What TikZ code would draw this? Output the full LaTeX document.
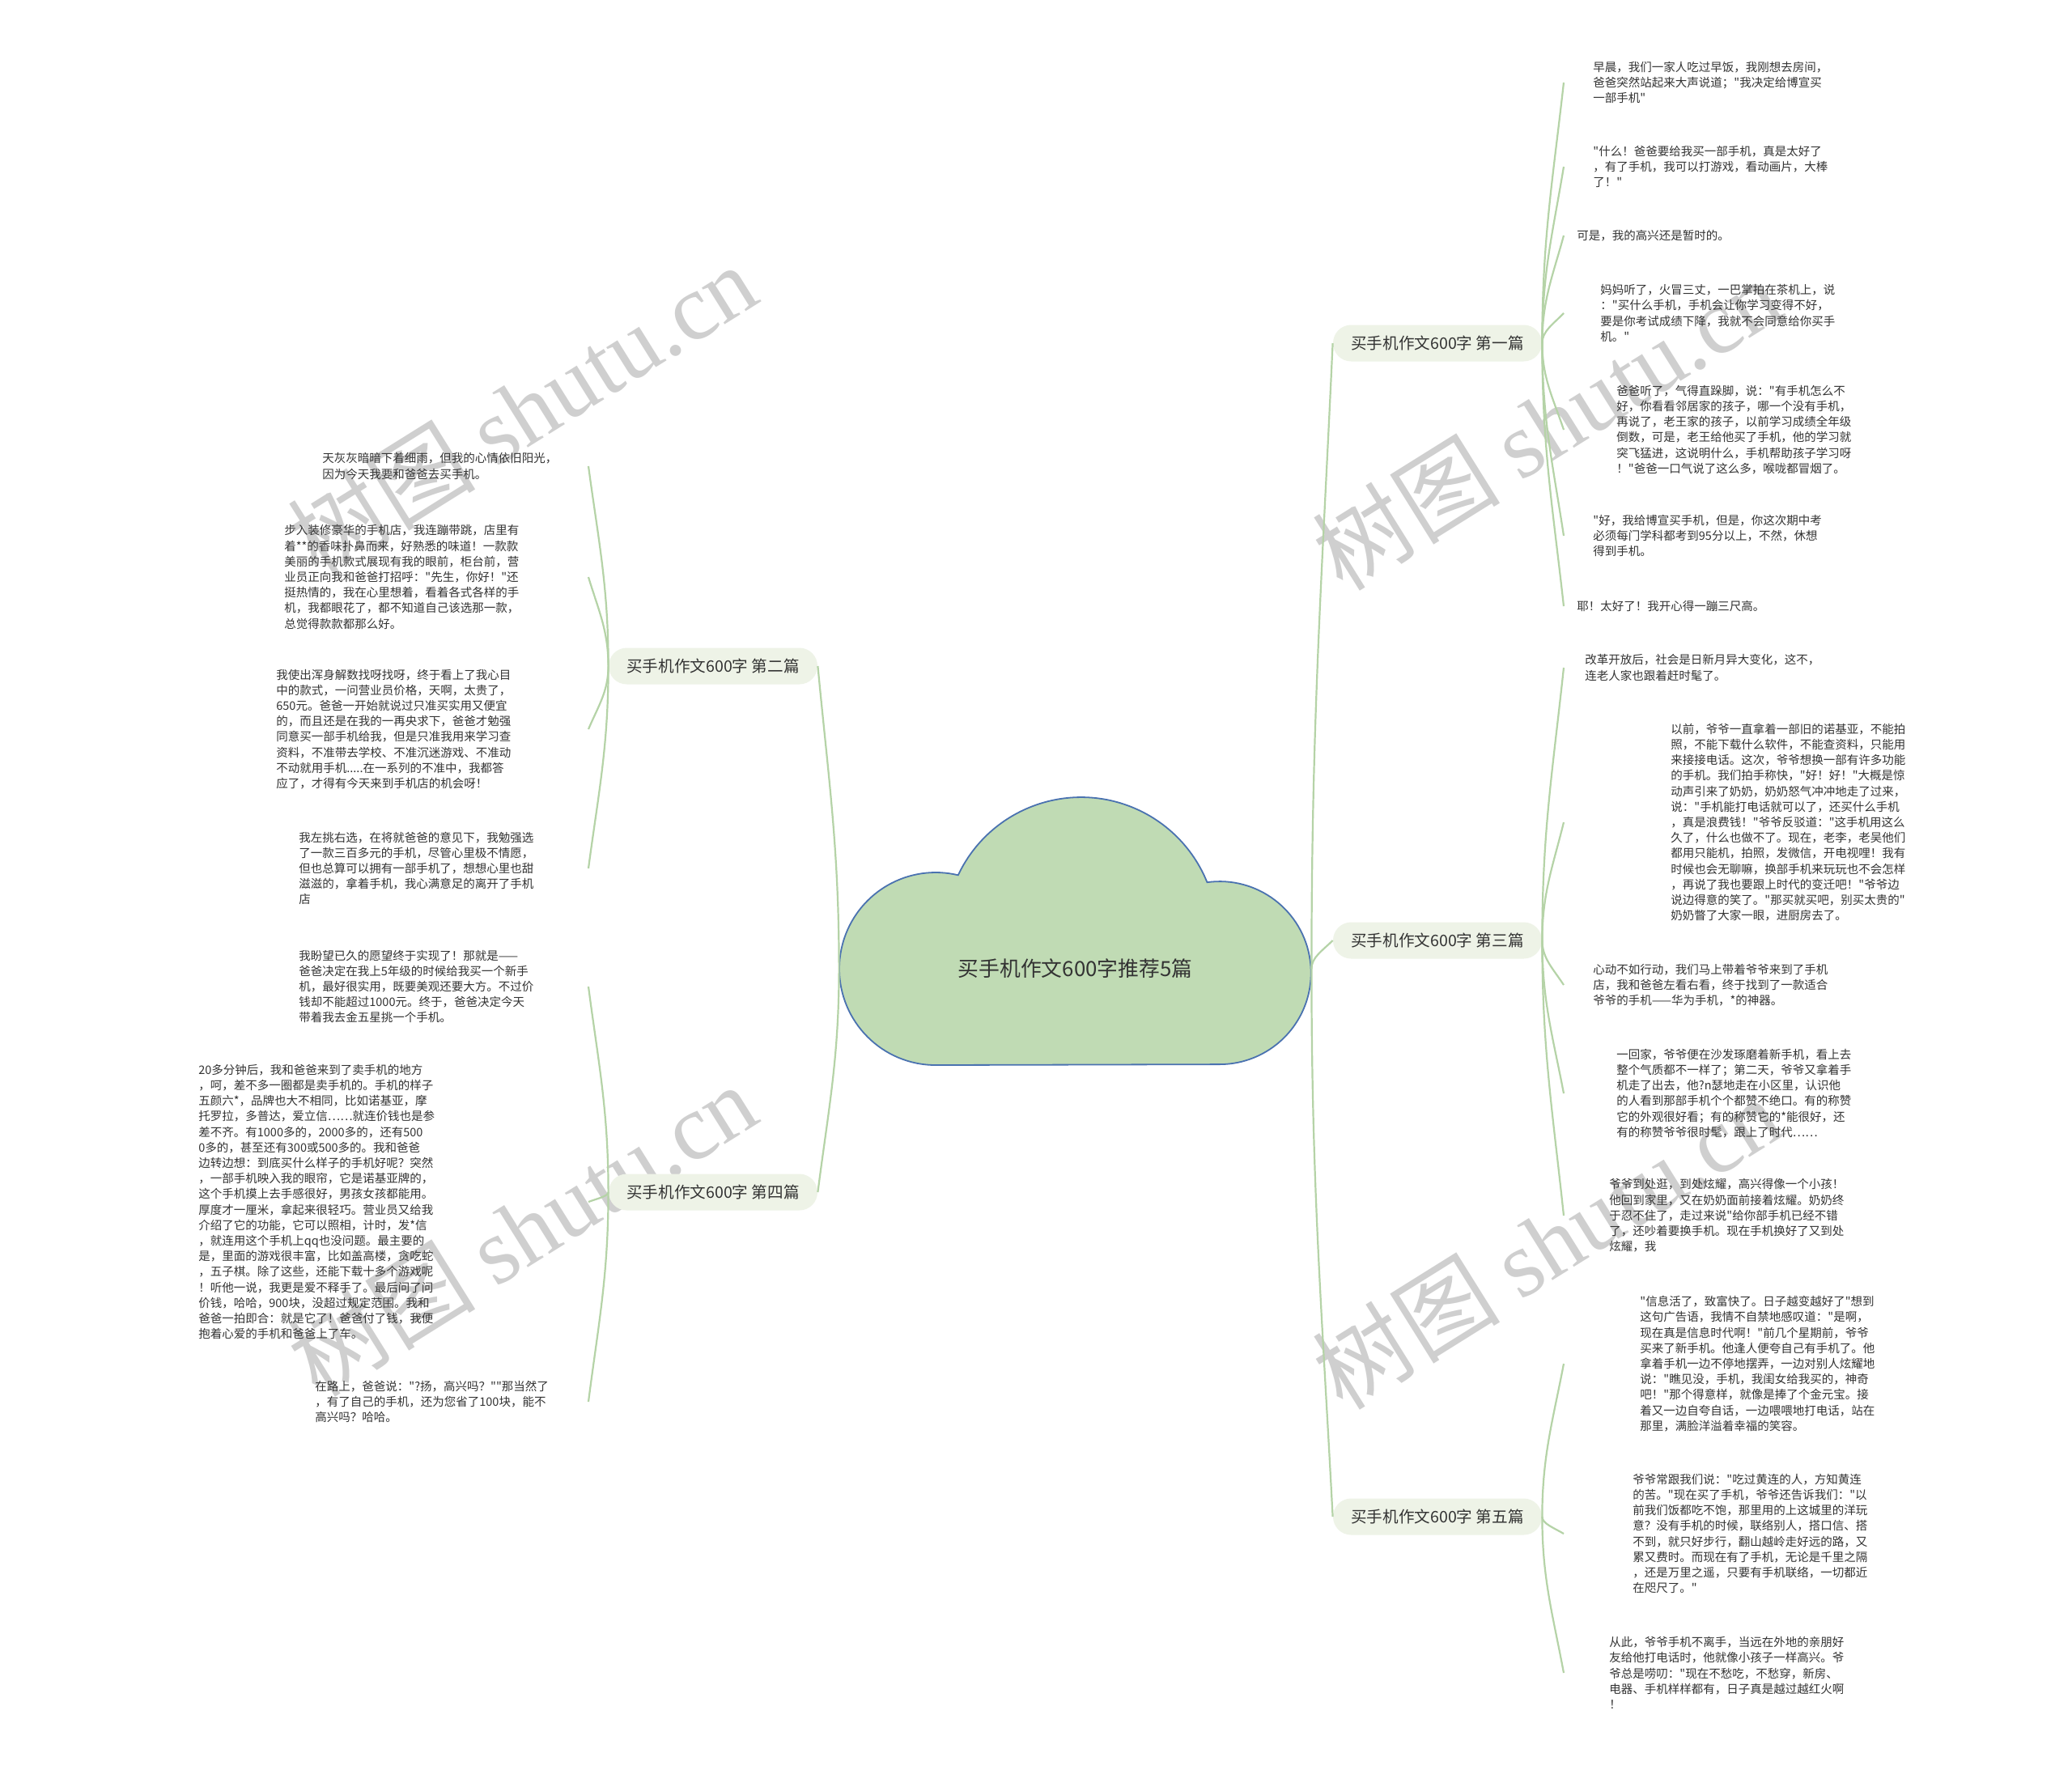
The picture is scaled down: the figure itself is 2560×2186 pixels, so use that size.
\documentclass[tikz,border=0pt]{standalone}
\usepackage{fontspec}
\usetikzlibrary{calc}
\setmainfont{Noto Sans CJK SC}
\newfontfamily\cjk{Noto Sans CJK SC}
\newfontfamily\wmlatin{Liberation Serif}
\definecolor{lineg}{HTML}{B5D3A7}
\definecolor{cloudfill}{HTML}{C0DBB4}
\definecolor{cloudline}{HTML}{4A72B0}
\definecolor{branchfill}{HTML}{EEF3E7}
\definecolor{txt}{HTML}{333333}
\definecolor{wmc}{HTML}{CFCFCF}
\tikzset{
  leaf/.style={anchor=west, inner sep=0pt, align=left, text=txt, font={\cjk\fontsize{7.25pt}{9.6pt}\selectfont}},
  branch/.style={rounded corners=11.2pt, fill=branchfill, minimum width=129pt, minimum height=22.5pt, inner sep=0pt, text=txt, font={\cjk\fontsize{9.8pt}{12pt}\selectfont}},
  conn/.style={draw=lineg, line width=1.1pt},
  wmark/.style={rotate=32, text=wmc, inner sep=0pt, font={\fontsize{58pt}{60pt}\selectfont}}
}
\newcommand\linkit[2]{%
  \path (#1) coordinate (S) (#2) coordinate (E);
  \path ($(S)!0.4!(E)$) coordinate (Q1) ($(S)!0.5!(E)$) coordinate (Qh) ($(S)!0.63!(E)$) coordinate (Q2);
  \draw[conn] (S) .. controls (S |- Q1) and (Qh |- Q2) .. (E);
}
\begin{document}
\begin{tikzpicture}[x=0.5pt,y=0.5pt]
\useasboundingbox (0,0) rectangle (2560,-2186);
\fill[white] (0,0) rectangle (2560,-2186);
% watermarks
\node[wmark] (wm1) at (645,-506) {\cjk 树图 \wmlatin shutu.cn};
\node[wmark] (wm2) at (1911,-523) {\cjk 树图 \wmlatin shutu.cn};
\node[wmark] (wm3) at (645,-1519) {\cjk 树图 \wmlatin shutu.cn};
\node[wmark] (wm4) at (1911,-1535) {\cjk 树图 \wmlatin shutu.cn};
% cloud
\path[draw=cloudline, fill=cloudfill, line width=0.9pt] (1156,-1316) arc[start angle=270, end angle=76.5, radius=119] arc[start angle=154.7, end angle=22.0, radius=168] arc[start angle=97.8, end angle=-90, radius=113] -- cycle;
\node[inner sep=0pt, minimum width=291.5pt, minimum height=12pt, text=txt, font={\cjk\fontsize{12.9pt}{15pt}\selectfont}] (C) at (1328.5,-1197) {买手机作文600字推荐5篇};
% branches
\node[branch] (B1) at (1776,-424) {买手机作文600字 第一篇};
\node[branch] (B2) at (881,-823) {买手机作文600字 第二篇};
\node[branch] (B3) at (1776,-1162) {买手机作文600字 第三篇};
\node[branch] (B4) at (881,-1473) {买手机作文600字 第四篇};
\node[branch] (B5) at (1776,-1874) {买手机作文600字 第五篇};
% leaves section 1
\node[leaf] (L1a) at (1968,-102) {早晨，我们一家人吃过早饭，我刚想去房间，\\爸爸突然站起来大声说道；"我决定给博宣买\\一部手机"};
\node[leaf] (L1b) at (1968,-206) {"什么！爸爸要给我买一部手机，真是太好了\\，有了手机，我可以打游戏，看动画片，大棒\\了！"};
\node[leaf] (L1c) at (1948,-291) {可是，我的高兴还是暂时的。};
\node[leaf] (L1d) at (1977,-387) {妈妈听了，火冒三丈，一巴掌拍在茶机上，说\\："买什么手机，手机会让你学习变得不好，\\要是你考试成绩下降，我就不会同意给你买手\\机。"};
\node[leaf] (L1e) at (1997,-531) {爸爸听了，气得直跺脚，说："有手机怎么不\\好，你看看邻居家的孩子，哪一个没有手机，\\再说了，老王家的孩子，以前学习成绩全年级\\倒数，可是，老王给他买了手机，他的学习就\\突飞猛进，这说明什么，手机帮助孩子学习呀\\！"爸爸一口气说了这么多，喉咙都冒烟了。};
\node[leaf] (L1f) at (1968,-662) {"好，我给博宣买手机，但是，你这次期中考\\必须每门学科都考到95分以上，不然，休想\\得到手机。};
\node[leaf] (L1g) at (1948,-749) {耶！太好了！我开心得一蹦三尺高。};
% leaves section 3
\node[leaf] (L3a) at (1958,-825) {改革开放后，社会是日新月异大变化，这不，\\连老人家也跟着赶时髦了。};
\node[leaf] (L3b) at (2064,-1016) {以前，爷爷一直拿着一部旧的诺基亚，不能拍\\照，不能下载什么软件，不能查资料，只能用\\来接接电话。这次，爷爷想换一部有许多功能\\的手机。我们拍手称快，"好！好！"大概是惊\\动声引来了奶奶，奶奶怒气冲冲地走了过来，\\说："手机能打电话就可以了，还买什么手机\\，真是浪费钱！"爷爷反驳道："这手机用这么\\久了，什么也做不了。现在，老李，老吴他们\\都用只能机，拍照，发微信，开电视哩！我有\\时候也会无聊嘛，换部手机来玩玩也不会怎样\\，再说了我也要跟上时代的变迁吧！"爷爷边\\说边得意的笑了。"那买就买吧，别买太贵的"\\奶奶瞥了大家一眼，进厨房去了。};
\node[leaf] (L3c) at (1968,-1217) {心动不如行动，我们马上带着爷爷来到了手机\\店，我和爸爸左看右看，终于找到了一款适合\\爷爷的手机——华为手机，*的神器。};
\node[leaf] (L3d) at (1997,-1351) {一回家，爷爷便在沙发琢磨着新手机，看上去\\整个气质都不一样了；第二天，爷爷又拿着手\\机走了出去，他?n瑟地走在小区里，认识他\\的人看到那部手机个个都赞不绝口。有的称赞\\它的外观很好看；有的称赞它的*能很好，还\\有的称赞爷爷很时髦，跟上了时代……};
\node[leaf] (L3e) at (1988,-1502) {爷爷到处逛，到处炫耀，高兴得像一个小孩！\\他回到家里，又在奶奶面前接着炫耀。奶奶终\\于忍不住了，走过来说"给你部手机已经不错\\了，还吵着要换手机。现在手机换好了又到处\\炫耀，我};
% leaves section 5
\node[leaf] (L5a) at (2026,-1685) {"信息活了，致富快了。日子越变越好了"想到\\这句广告语，我情不自禁地感叹道："是啊，\\现在真是信息时代啊！"前几个星期前，爷爷\\买来了新手机。他逢人便夸自己有手机了。他\\拿着手机一边不停地摆弄，一边对别人炫耀地\\说："瞧见没，手机，我闺女给我买的，神奇\\吧！"那个得意样，就像是捧了个金元宝。接\\着又一边自夸自话，一边喂喂地打电话，站在\\那里，满脸洋溢着幸福的笑容。};
\node[leaf] (L5b) at (2017,-1895) {爷爷常跟我们说："吃过黄连的人，方知黄连\\的苦。"现在买了手机，爷爷还告诉我们："以\\前我们饭都吃不饱，那里用的上这城里的洋玩\\意？没有手机的时候，联络别人，搭口信、搭\\不到，就只好步行，翻山越岭走好远的路，又\\累又费时。而现在有了手机，无论是千里之隔\\，还是万里之遥，只要有手机联络，一切都近\\在咫尺了。"};
\node[leaf] (L5c) at (1988,-2067) {从此，爷爷手机不离手，当远在外地的亲朋好\\友给他打电话时，他就像小孩子一样高兴。爷\\爷总是唠叨："现在不愁吃，不愁穿，新房、\\电器、手机样样都有，日子真是越过越红火啊\\！};
% leaves section 2
\node[leaf] (L2a) at (398,-576) {天灰灰暗暗下着细雨，但我的心情依旧阳光，\\因为今天我要和爸爸去买手机。};
\node[leaf] (L2b) at (351,-713) {步入装修豪华的手机店，我连蹦带跳，店里有\\着**的香味扑鼻而来，好熟悉的味道！一款款\\美丽的手机款式展现有我的眼前，柜台前，营\\业员正向我和爸爸打招呼："先生，你好！"还\\挺热情的，我在心里想着，看着各式各样的手\\机，我都眼花了，都不知道自己该选那一款，\\总觉得款款都那么好。};
\node[leaf] (L2c) at (341,-901) {我使出浑身解数找呀找呀，终于看上了我心目\\中的款式，一问营业员价格，天啊，太贵了，\\650元。爸爸一开始就说过只准买实用又便宜\\的，而且还是在我的一再央求下，爸爸才勉强\\同意买一部手机给我，但是只准我用来学习查\\资料，不准带去学校、不准沉迷游戏、不准动\\不动就用手机.....在一系列的不准中，我都答\\应了，才得有今天来到手机店的机会呀！};
\node[leaf] (L2d) at (369,-1073) {我左挑右选，在将就爸爸的意见下，我勉强选\\了一款三百多元的手机，尽管心里极不情愿，\\但也总算可以拥有一部手机了，想想心里也甜\\滋滋的，拿着手机，我心满意足的离开了手机\\店};
% leaves section 4
\node[leaf] (L4a) at (369,-1219) {我盼望已久的愿望终于实现了！那就是——\\爸爸决定在我上5年级的时候给我买一个新手\\机，最好很实用，既要美观还要大方。不过价\\钱却不能超过1000元。终于，爸爸决定今天\\带着我去金五星挑一个手机。};
\node[leaf] (L4b) at (245,-1485) {20多分钟后，我和爸爸来到了卖手机的地方\\，呵，差不多一圈都是卖手机的。手机的样子\\五颜六*，品牌也大不相同，比如诺基亚，摩\\托罗拉，多普达，爱立信……就连价钱也是参\\差不齐。有1000多的，2000多的，还有500\\0多的，甚至还有300或500多的。我和爸爸\\边转边想：到底买什么样子的手机好呢？突然\\，一部手机映入我的眼帘，它是诺基亚牌的，\\这个手机摸上去手感很好，男孩女孩都能用。\\厚度才一厘米，拿起来很轻巧。营业员又给我\\介绍了它的功能，它可以照相，计时，发*信\\，就连用这个手机上qq也没问题。最主要的\\是，里面的游戏很丰富，比如盖高楼，贪吃蛇\\，五子棋。除了这些，还能下载十多个游戏呢\\！听他一说，我更是爱不释手了。最后问了问\\价钱，哈哈，900块，没超过规定范围。我和\\爸爸一拍即合：就是它了！爸爸付了钱，我便\\抱着心爱的手机和爸爸上了车。};
\node[leaf] (L4c) at (389,-1732) {在路上，爸爸说："?扬，高兴吗？""那当然了\\，有了自己的手机，还为您省了100块，能不\\高兴吗？哈哈。};
% connectors centre -> branches
\linkit{C.east}{B1.west}
\linkit{C.east}{B3.west}
\linkit{C.east}{B5.west}
\linkit{C.west}{B2.east}
\linkit{C.west}{B4.east}
% branch -> leaves (right)
\foreach \b/\l in {B1/L1a,B1/L1b,B1/L1c,B1/L1d,B1/L1e,B1/L1f,B1/L1g,B3/L3a,B3/L3b,B3/L3c,B3/L3d,B3/L3e,B5/L5a,B5/L5b,B5/L5c}
  {\linkit{\b.east}{\l.west -| 1932,0}}
% branch -> leaves (left)
\foreach \b/\l in {B2/L2a,B2/L2b,B2/L2c,B2/L2d,B4/L4a,B4/L4b,B4/L4c}
  {\linkit{\b.west}{\l.east -| 727,0}}
\end{tikzpicture}
\end{document}
